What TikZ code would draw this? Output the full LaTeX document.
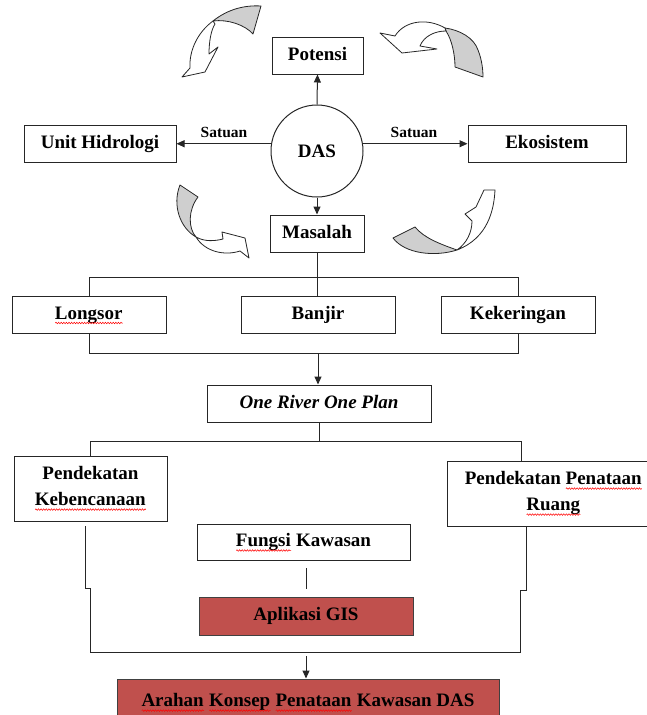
\documentclass[tikz,border=0pt]{standalone}
\usepackage{fontspec}
\setmainfont{Liberation Serif}
\usetikzlibrary{arrows.meta,shapes.geometric,decorations.pathmorphing}
\definecolor{boxred}{RGB}{192,80,77}
\definecolor{cgray}{RGB}{207,207,207}
\newsavebox\sqbox
\newcommand\sq[1]{\sbox\sqbox{#1}\leavevmode\rlap{\usebox\sqbox}\tikz[baseline=0pt]\draw[red,fill=none,line width=0.5pt,decorate,decoration={snake,amplitude=0.8pt,segment length=2.6pt}] (0pt,-4pt) -- (\wd\sqbox,-4pt);}
\begin{document}
\begin{tikzpicture}[x=1pt,y=-1pt,
  font=\bfseries\fontsize{19}{26}\selectfont,
  box/.style={draw=black!85,line width=1pt,rectangle,minimum height=37pt,inner sep=0pt,align=center},
  one/.style={text height=13pt,text depth=4pt},
  redbox/.style={box,fill=boxred,draw=black!75},
  ln/.style={draw=black!85,line width=1pt},
  arr/.style={ln,-{Triangle[length=8pt,width=7pt]}},
  carrow/.style={draw=black!85,line width=0.8pt,line join=round},
  lbl/.style={font=\bfseries\fontsize{15.5}{18}\selectfont,inner sep=0pt}]
\useasboundingbox (0,0) rectangle (647,715);
\clip (0,0) rectangle (647,715);

% nodes
\node[box,one,minimum width=91pt] (potensi) at (317.5,55.5) {Potensi};
\node[draw=black!85,line width=1pt,ellipse,minimum width=92pt,minimum height=92pt,inner sep=0pt] (das) at (317,151) {DAS};
\node[box,one,minimum width=152pt] (unit) at (100,143.5) {Unit Hidrologi};
\node[box,one,minimum width=158pt] (eko) at (547,143.5) {Ekosistem};
\node[lbl] (s1) at (224,132) {Satuan};
\node[lbl] (s2) at (414,132) {Satuan};
\node[box,one,minimum width=94pt] (masalah) at (317,233.5) {Masalah};
\node[box,one,minimum width=154pt] (longsor) at (89,314.5) {\sq{Longsor}};
\node[box,one,minimum width=154pt] (banjir) at (318,314.5) {Banjir};
\node[box,one,minimum width=154pt] (keker) at (518,314.5) {Kekeringan};
\node[box,one,minimum width=224pt,font=\bfseries\itshape\fontsize{19}{26}\selectfont] (onerv) at (319,403.5) {One River One Plan};
\node[box,minimum width=153pt,minimum height=65pt] (kebenc) at (90.5,488.5) {Pendekatan\\\sq{Kebencanaan}};
\node[box,minimum width=213pt,minimum height=65pt] (penat) at (553.5,493.5) {Pendekatan \sq{Penataan}\\\sq{Ruang}};
\node[box,one,minimum width=213pt,minimum height=36pt] (fungsi) at (303.5,542) {\sq{Fungsi} Kawasan};
\node[redbox,one,minimum width=214pt,minimum height=38pt] (gis) at (306,616) {Aplikasi GIS};
\node[redbox,minimum width=382pt,minimum height=50pt] (arahan) at (308,704) {\raisebox{8pt}{\sq{Arahan} \sq{Konsep} \sq{Penataan} Kawasan DAS}};

% connectors around DAS
\draw[arr] (das.north) -- (potensi.south);
\draw[arr] (das.171) -- (das.171 -| unit.east);
\draw[arr] (das.9) -- (das.9 -| eko.west);
\draw[arr] (das.south) -- (masalah.north);

% problem bus
\coordinate (b1) at (318,277);
\coordinate (b2) at (318,353);
\draw[ln] (masalah.south) -- (masalah.south |- banjir.north);
\draw[ln] (longsor.north) -- (longsor.north |- b1) -- (keker.north |- b1) -- (keker.north);
\draw[ln] (longsor.south) -- (longsor.south |- b2) -- (keker.south |- b2) -- (keker.south);
\draw[arr] (b2) -- (b2 |- onerv.north);

% approach bus
\coordinate (b3l) at (90,441);
\coordinate (b3r) at (521,441);
\draw[ln] (onerv.south) -- (onerv.south |- b3l);
\draw[ln] (b3l |- kebenc.north) -- (b3l) -- (b3r) -- (b3r |- penat.north);

% lower frame
\coordinate (l1) at (85,526);
\coordinate (l2) at (85,588);
\coordinate (l3) at (90,588);
\coordinate (b4l) at (90,652);
\coordinate (r1) at (526,526);
\coordinate (r2) at (526,590);
\coordinate (r3) at (520,590);
\coordinate (b4r) at (520,652);
\draw[ln] (l1) -- (l2) -- (l3) -- (b4l) -- (b4r) -- (r3) -- (r2) -- (r1);
\coordinate (f1) at (306,568);
\coordinate (f2) at (306,589);
\draw[ln] (f1) -- (f2);
\coordinate (a1) at (306,656);
\draw[arr] (a1) -- (a1 |- arahan.north);

% curved arrows
% top-left
\filldraw[carrow,fill=cgray] (213,21) .. controls (228,9) and (245,5) .. (261,6) -- (253,34) .. controls (245,25) and (228,19) .. (213,21) -- cycle;
\filldraw[carrow,fill=white] (213,21) .. controls (198,32) and (189,50) .. (190,68) -- (182,77) -- (205,72) -- (218,47) -- (209,54) .. controls (209,42) and (211,30) .. (215,24) -- cycle;
% top-right
\filldraw[carrow,fill=cgray] (445,28) .. controls (460,30) and (474,38) .. (478,50) .. controls (482,60) and (483,70) .. (483,77) -- (455,67) .. controls (455,55) and (452,40) .. (446,31) -- cycle;
\filldraw[carrow,fill=white] (445,28) .. controls (428,18) and (405,20) .. (395,36) -- (380,33) -- (402,53) -- (437,49) -- (420,46) .. controls (424,36) and (435,31) .. (446,31) -- cycle;
% bottom-left
\filldraw[carrow,fill=cgray] (180,185) -- (198,197) .. controls (188,210) and (188,228) .. (196,237) .. controls (180,228) and (172,205) .. (180,185) -- cycle;
\filldraw[carrow,fill=white] (196,237) .. controls (205,242) and (215,241) .. (223,239) -- (222,232) -- (245,238) -- (249,258) -- (240,251) .. controls (225,256) and (205,252) .. (196,237) -- cycle;
% bottom-right
\filldraw[carrow,fill=cgray] (393,238) -- (415,227) .. controls (424,238) and (440,244) .. (457,250) .. controls (435,257) and (405,254) .. (393,238) -- cycle;
\filldraw[carrow,fill=white] (457,250) .. controls (467,243) and (472,232) .. (472,221) -- (465,214) -- (476,207) -- (484,190) -- (495,190) .. controls (494,210) and (488,238) .. (457,250) -- cycle;
\end{tikzpicture}
\end{document}
